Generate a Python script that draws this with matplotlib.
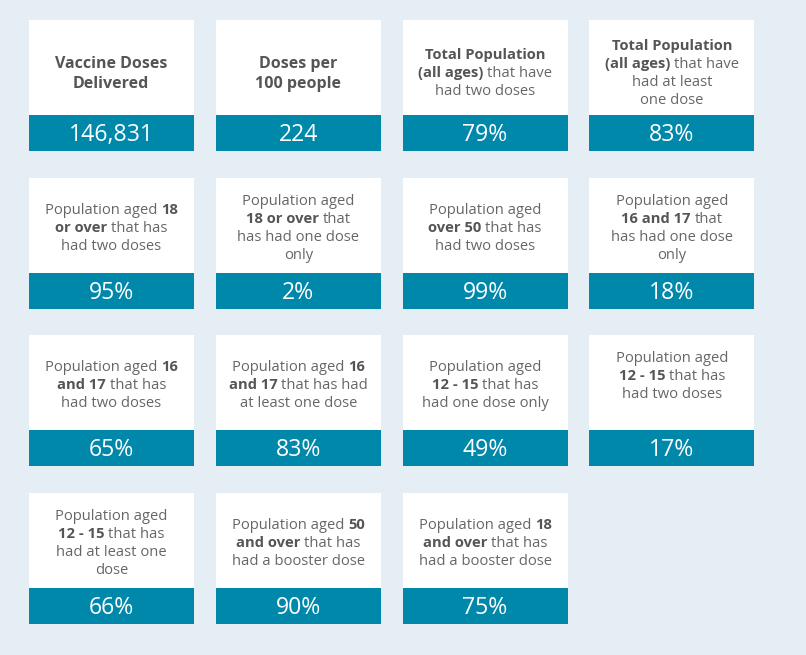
import matplotlib
matplotlib.use("Agg")
import matplotlib.pyplot as plt
from matplotlib.patches import Rectangle

# card texts, ** marks the bold parts
labels = [
    "**Vaccine Doses**\n**Delivered**",
    "**Doses per**\n**100 people**",
    "**Total Population**\n**(all ages)** that have\nhad two doses",
    "**Total Population**\n**(all ages)** that have\nhad at least\none dose",
    "Population aged **18**\n**or over** that has\nhad two doses",
    "Population aged\n**18 or over** that\nhas had one dose\nonly",
    "Population aged\n**over 50** that has\nhad two doses",
    "Population aged\n**16 and 17** that\nhas had one dose\nonly",
    "Population aged **16**\n**and 17** that has\nhad two doses",
    "Population aged **16**\n**and 17** that has had\nat least one dose",
    "Population aged\n**12 - 15** that has\nhad one dose only",
    "Population aged\n**12 - 15** that has\nhad two doses\n",
    "Population aged\n**12 - 15** that has\nhad at least one\ndose",
    "Population aged **50**\n**and over** that has\nhad a booster dose",
    "Population aged **18**\n**and over** that has\nhad a booster dose",
]
values = ["146,831", "224", "79%", "83%",
          "95%", "2%", "99%", "18%",
          "65%", "83%", "49%", "17%",
          "66%", "90%", "75%"]

BG = "#e6eef5"
BLUE = "#0088ab"
GREY_B = "#555555"
GREY = "#666666"
FONT = "Open Sans"

W, H = 806, 655
fig = plt.figure(figsize=(W / 100, H / 100), dpi=100, facecolor=BG)
ax = fig.add_axes([0, 0, 1, 1])
ax.set_xlim(0, W)
ax.set_ylim(H, 0)
ax.axis("off")
ax.set_facecolor(BG)
renderer = fig.canvas.get_renderer()


def px(p):
    return p * 0.72


def width_of(s, size, weight):
    t = ax.text(0, 0, s, fontsize=size, fontweight=weight, family=FONT)
    bb = t.get_window_extent(renderer=renderer)
    t.remove()
    return bb.width


def parse(line):
    parts = line.split("**")
    return [(p, i % 2 == 1) for i, p in enumerate(parts) if p != ""]


def draw_line(line, xc, yb, size):
    segs = parse(line)
    items = []
    for s, b in segs:
        w8 = "bold" if b else "normal"
        sp = width_of("a a", size, w8) - width_of("aa", size, w8)
        st = s.strip()
        items.append((st, b, width_of(st, size, w8) if st else 0,
                      sp if s[:1] == " " else 0, sp if s[-1:] == " " else 0))
    total = sum(i[2] + i[3] + i[4] for i in items)
    x = xc - total / 2
    for st, b, w, sb, sa in items:
        x += sb
        if st:
            ax.text(round(x), yb, st, fontsize=size, family=FONT,
                    fontweight="bold" if b else "normal",
                    color=GREY_B if b else GREY, ha="left", va="baseline")
        x += w + sa


x0, dx = 29, 186.8
y0, dy = 20, 157.5
cw, wh, bh = 165, 95, 36

for i, (lab, val) in enumerate(zip(labels, values)):
    r, c = divmod(i, 4)
    x = x0 + c * dx
    y = y0 + r * dy
    ax.add_patch(Rectangle((x, y), cw, wh, facecolor="white", edgecolor="none"))
    ax.add_patch(Rectangle((x, y + wh), cw, bh, facecolor=BLUE, edgecolor="none"))

    if i < 2:
        fpx, lsp = 16, 20
    else:
        fpx, lsp = 14.8, 18
    lines = lab.split("\n")
    yc = y + wh / 2 + 1.5 + (3 if r == 0 else 0)
    n = len(lines)
    for k, ln in enumerate(lines):
        ly = yc + (k - (n - 1) / 2) * lsp
        if ln:
            draw_line(ln, x + cw / 2, ly + 0.36 * fpx, px(fpx))

    ax.text(x + cw / 2, y + wh + bh / 2 + 0.36 * 23, val, fontsize=px(23),
            family=FONT, color="white", ha="center", va="baseline")

fig.savefig("out.png", dpi=100, facecolor=BG)
